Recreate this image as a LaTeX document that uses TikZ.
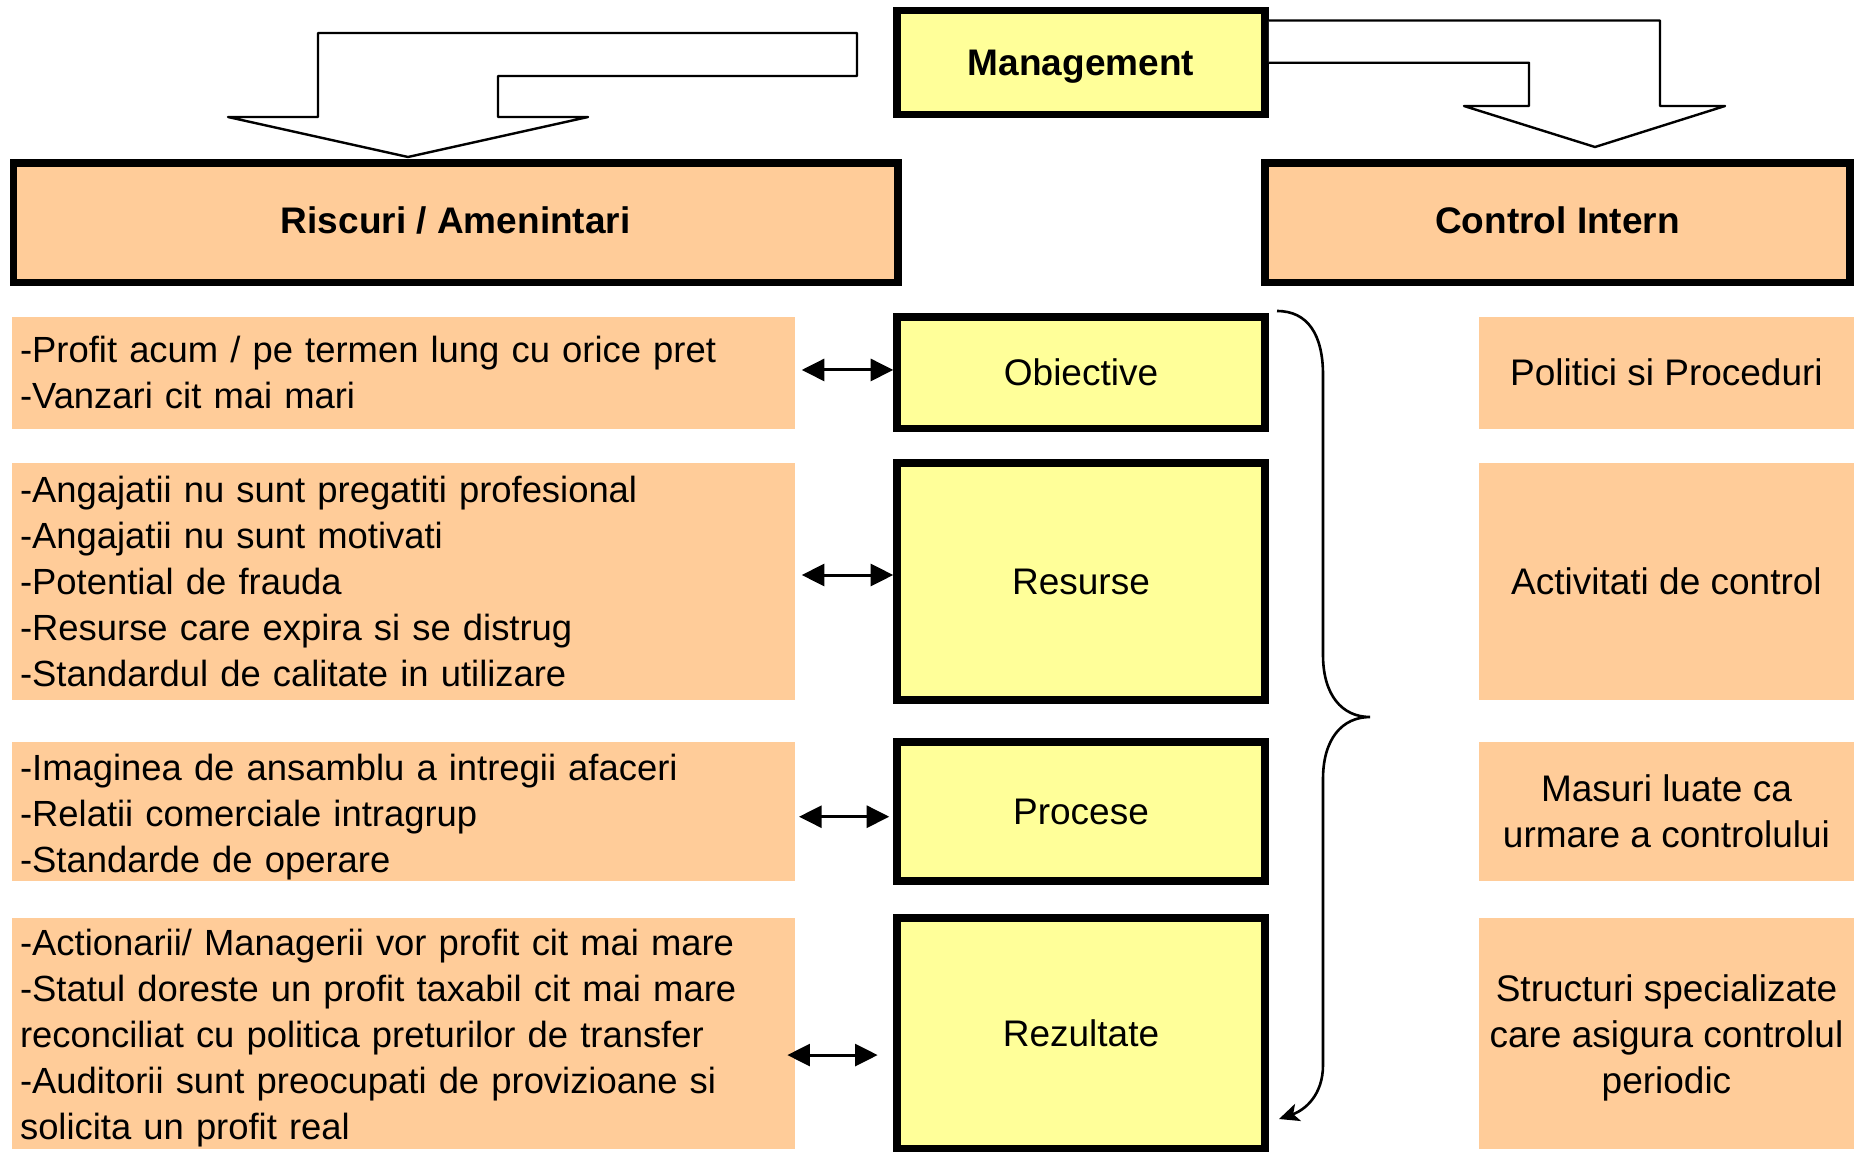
\documentclass[tikz,border=0pt]{standalone}
\usepackage{fontspec}
\setmainfont{Liberation Sans}
\usetikzlibrary{arrows.meta,positioning}
\definecolor{peach}{RGB}{255,204,153}
\definecolor{paleyellow}{RGB}{255,255,153}
\newcommand{\pushdown}{\rule{0pt}{18.5pt}}

\begin{document}
\begin{tikzpicture}[
  x=0.5pt, y=-0.5pt,
  font=\fontsize{18.5}{23}\selectfont,
  head/.style={rectangle,draw,line width=3.75pt,fill=peach,inner sep=0pt,minimum height=59.75pt,text height=13.4pt,text depth=2.5pt,font=\fontsize{18.5}{23}\selectfont\bfseries},
  mid/.style={rectangle,draw,line width=3.75pt,fill=paleyellow,inner sep=0pt,minimum width=184pt},
  risk/.style={rectangle,fill=peach,align=left,text width=383.5pt,inner xsep=4pt,inner ysep=0pt,outer sep=0pt,font=\fontsize{18.2}{23}\selectfont},
  ctrl/.style={rectangle,fill=peach,align=center,minimum width=187.5pt,inner sep=2pt,outer sep=0pt},
  link/.style={{Triangle[length=11.3pt,width=11pt]}-{Triangle[length=11.3pt,width=11pt]},line width=1.5pt},
  bigarrow/.style={draw,fill=white,line width=1.2pt,line join=round},
  brace/.style={line width=1.3pt,-{Stealth[length=10pt,width=9pt,inset=2.5pt]}}
]
\useasboundingbox (0,0) rectangle (1857,1151);

\node[mid, minimum height=52pt, text height=13.4pt, text depth=0pt, font=\fontsize{18.5}{23}\selectfont\bfseries] (mgmt) at (1081,62.5) {Management};
\node[head, minimum width=442.25pt] (riskhead) at (455.75,222.75) {Riscuri / Amenintari};
\node[head, minimum width=292.5pt] (ctrlhead) at (1557.5,222.75) {Control Intern};

\node[mid, minimum height=55.75pt] (obj) at (1081,372.75) {Obiective};
\node[mid, minimum height=118.5pt] (res) at (1081,581.5) {Resurse};
\node[mid, minimum height=69.5pt] (proc) at (1081,811.5) {Procese};
\node[mid, minimum height=115.25pt] (rez) at (1081,1033.25) {Rezultate};

\node[risk, minimum height=55.75pt, left=49.1pt of obj] (riskobj) {-Profit acum / pe termen lung cu orice pret\\-Vanzari cit mai mari};
\node[risk, minimum height=118.5pt, left=49.1pt of res] (riskres) {-Angajatii nu sunt pregatiti profesional\\-Angajatii nu sunt motivati\\-Potential de frauda\\-Resurse care expira si se distrug\\-Standardul de calitate in utilizare};
\node[risk, minimum height=69.5pt, left=49.1pt of proc] (riskproc) {\pushdown-Imaginea de ansamblu a intregii afaceri\\-Relatii comerciale intragrup\\-Standarde de operare};
\node[risk, minimum height=115.25pt, left=49.1pt of rez] (riskrez) {\pushdown-Actionarii/ Managerii vor profit cit mai mare\\-Statul doreste un profit taxabil cit mai mare\\reconciliat cu politica preturilor de transfer\\-Auditorii sunt preocupati de provizioane si\\solicita un profit real};

\node[ctrl, minimum height=55.75pt, right=105.1pt of obj] (ctrlobj) {Politici si Proceduri};
\node[ctrl, minimum height=118.5pt, right=105.1pt of res] (ctrlres) {Activitati de control};
\node[ctrl, minimum height=69.5pt, right=105.1pt of proc] (ctrlproc) {Masuri luate ca\\urmare a controlului};
\node[ctrl, minimum height=115.25pt, right=105.1pt of rez] (ctrlrez) {\pushdown Structuri specializate\\care asigura controlul\\periodic};

\draw[bigarrow] (857,33) -- (318,33) -- (318,117) -- (228,117) -- (408,157) -- (588,117) -- (498,117) -- (498,76) -- (857,76) -- cycle;
\draw[bigarrow] (mgmt.east |- 0,20.5) -- (1660,20.5) -- (1660,106) -- (1725,106) -- (1595,147) -- (1464,106) -- (1529,106) -- (1529,62.7) -- (mgmt.east |- 0,62.7);

\draw[link, shorten <=3.35pt] ([yshift=1.4pt]riskobj.east) -- ([yshift=1.4pt]obj.west);
\draw[link, shorten <=3.35pt] ([yshift=3.25pt]riskres.east) -- ([yshift=3.25pt]res.west);
\draw[link, shorten <=2pt, shorten >=2pt] ([yshift=-2.6pt]riskproc.east) -- ([yshift=-2.6pt]proc.west);
\draw[link, shorten <=-3.85pt, shorten >=7.8pt] ([yshift=-10.9pt]riskrez.east) -- ([yshift=-10.9pt]rez.west);

\coordinate (bracetop) at (1277,311);
\coordinate (braceend) at (1279,1119);
\draw[brace] (bracetop) .. controls (1308,311) and (1323,335) .. (1323,375) -- (1323,655)
  .. controls (1323,695) and (1342,717) .. (1370,717)
  .. controls (1342,717) and (1323,739) .. (1323,779) -- (1323,1065)
  .. controls (1323,1095) and (1305,1110) .. (braceend);
\end{tikzpicture}
\end{document}
